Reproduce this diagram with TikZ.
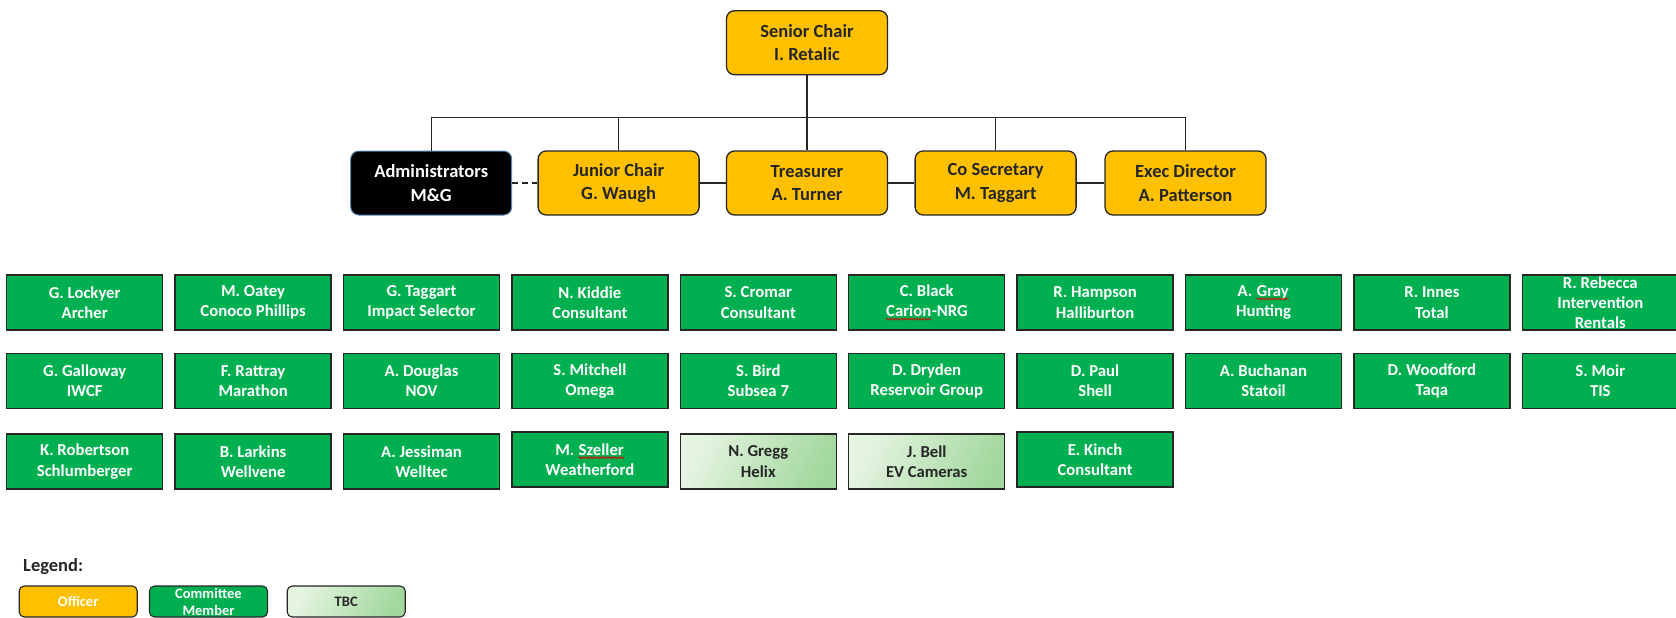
\documentclass[tikz,border=0pt]{standalone}
\usepackage{fontspec}
\setmainfont{Carlito}
\usetikzlibrary{decorations.pathmorphing}

\definecolor{officergold}{HTML}{FFC000}
\definecolor{membergreen}{HTML}{00B050}
\definecolor{tbclight}{HTML}{E6F4E2}
\definecolor{tbcdark}{HTML}{A2D89E}
\definecolor{boxedge}{HTML}{262626}
\definecolor{adminedge}{HTML}{5B87B5}

% red wavy underline of the spell checker
\newcommand{\spellmark}[1]{\tikz[baseline=(sw.base)]{\node[inner sep=0pt,anchor=base,minimum width=0pt,minimum height=0pt,draw=none,fill=none,shape=rectangle] (sw) {#1};\draw[red!85!black,line width=0.7pt,decorate,decoration={snake,amplitude=0.9pt,segment length=3pt}] ([yshift=-2.5pt]sw.base west) -- ([yshift=-2.5pt]sw.base east);}}

\begin{document}
\begin{tikzpicture}[x=1pt,y=-1pt,
        officer/.style={draw=boxedge,line width=1.3pt,fill=officergold,rounded corners=8pt,minimum width=161pt,minimum height=64pt,inner sep=0pt,align=center,text=boxedge,font=\bfseries\fontsize{18.5}{23.3}\selectfont},
        admin/.style={officer,fill=black,draw=adminedge,line width=1pt,text=white},
        member/.style={draw=boxedge,line width=1.3pt,fill=membergreen,minimum width=156pt,minimum height=55pt,inner sep=0pt,align=center,text=white,font=\bfseries\fontsize{16.7}{20.3}\selectfont},
        tbc/.style={member,left color=tbclight,right color=tbcdark,shading angle=65,text=boxedge},
        legendbox/.style={draw=boxedge,line width=1.1pt,rounded corners=5pt,minimum width=118pt,minimum height=31pt,inner sep=0pt,align=center,font=\bfseries\fontsize{14.5}{17}\selectfont},
        connector/.style={draw=boxedge,line width=1.4pt}]
    \useasboundingbox (0,0) rectangle (1676,618);

    % officers
    \node[officer] (senior) at (807,42.7) {Senior Chair\\I. Retalic};
    \node[admin] (admin) at (431.2,183) {Administrators\\M\&G};
    \node[officer] (junior) at (618.6,183) {Junior Chair\\G. Waugh};
    \node[officer] (treas) at (807,183) {Treasurer\\A. Turner};
    \node[officer] (cosec) at (995.6,183) {Co Secretary\\M. Taggart};
    \node[officer] (exec) at (1185.5,183) {Exec Director\\A. Patterson};

    \coordinate (bus) at (807,117.3);
    \draw[connector] (senior) -- (treas);
    \draw[connector] (admin.north) |- (bus) -| (exec.north);
    \draw[connector] (junior.north) -- (junior.north |- bus);
    \draw[connector] (cosec.north) -- (cosec.north |- bus);
    \draw[connector,dash pattern=on 6pt off 4pt] (admin) -- (junior);
    \draw[connector] (junior) -- (treas);
    \draw[connector] (treas) -- (cosec);
    \draw[connector] (cosec) -- (exec);

    % committee members
    \foreach \c/\nm/\co in {1/G. Lockyer/Archer,2/M. Oatey/Conoco Phillips,3/G. Taggart/Impact Selector,4/N. Kiddie/Consultant,5/S. Cromar/Consultant,6/C. Black/\spellmark{Carion}-NRG,7/R. Hampson/Halliburton,8/A. \spellmark{Gray}/Hunting,9/R. Innes/Total,10/R. Rebecca/Intervention\\Rentals}
        \node[member] (m1-\c) at ({84.7+168.4*(\c-1)},302.5) {\nm\\\co};
    \foreach \c/\nm/\co in {1/G. Galloway/IWCF,2/F. Rattray/Marathon,3/A. Douglas/NOV,4/S. Mitchell/Omega,5/S. Bird/Subsea 7,6/D. Dryden/Reservoir Group,7/D. Paul/Shell,8/A. Buchanan/Statoil,9/D. Woodford/Taqa,10/S. Moir/TIS}
        \node[member] (m2-\c) at ({84.7+168.4*(\c-1)},381) {\nm\\\co};
    \foreach \c/\nm/\co/\dy in {1/K. Robertson/Schlumberger/0,2/B. Larkins/Wellvene/0,3/A. Jessiman/Welltec/0,4/M. \spellmark{Szeller}/Weatherford/-2,7/E. Kinch/Consultant/-2}
        \node[member] (m3-\c) at ({84.7+168.4*(\c-1)},{461.5+\dy}) {\nm\\\co};
    \foreach \c/\nm/\co in {5/N. Gregg/Helix,6/J. Bell/EV Cameras}
        \node[tbc] (m3-\c) at ({84.7+168.4*(\c-1)},461.5) {\nm\\\co};

    % legend
    \node[anchor=base west,inner sep=0pt,text=boxedge,font=\bfseries\fontsize{18.5}{21}\selectfont] (legend) at (23,571.7) {Legend:};
    \node[legendbox,fill=officergold,text=white] (keyofficer) at (78.2,601.5) {Officer};
    \node[legendbox,fill=membergreen,text=white] (keymember) at (208.5,601.5) {Committee\\Member};
    \node[legendbox,left color=tbclight,right color=tbcdark,shading angle=65,text=boxedge] (keytbc) at (346.2,601.5) {TBC};
\end{tikzpicture}
\end{document}
